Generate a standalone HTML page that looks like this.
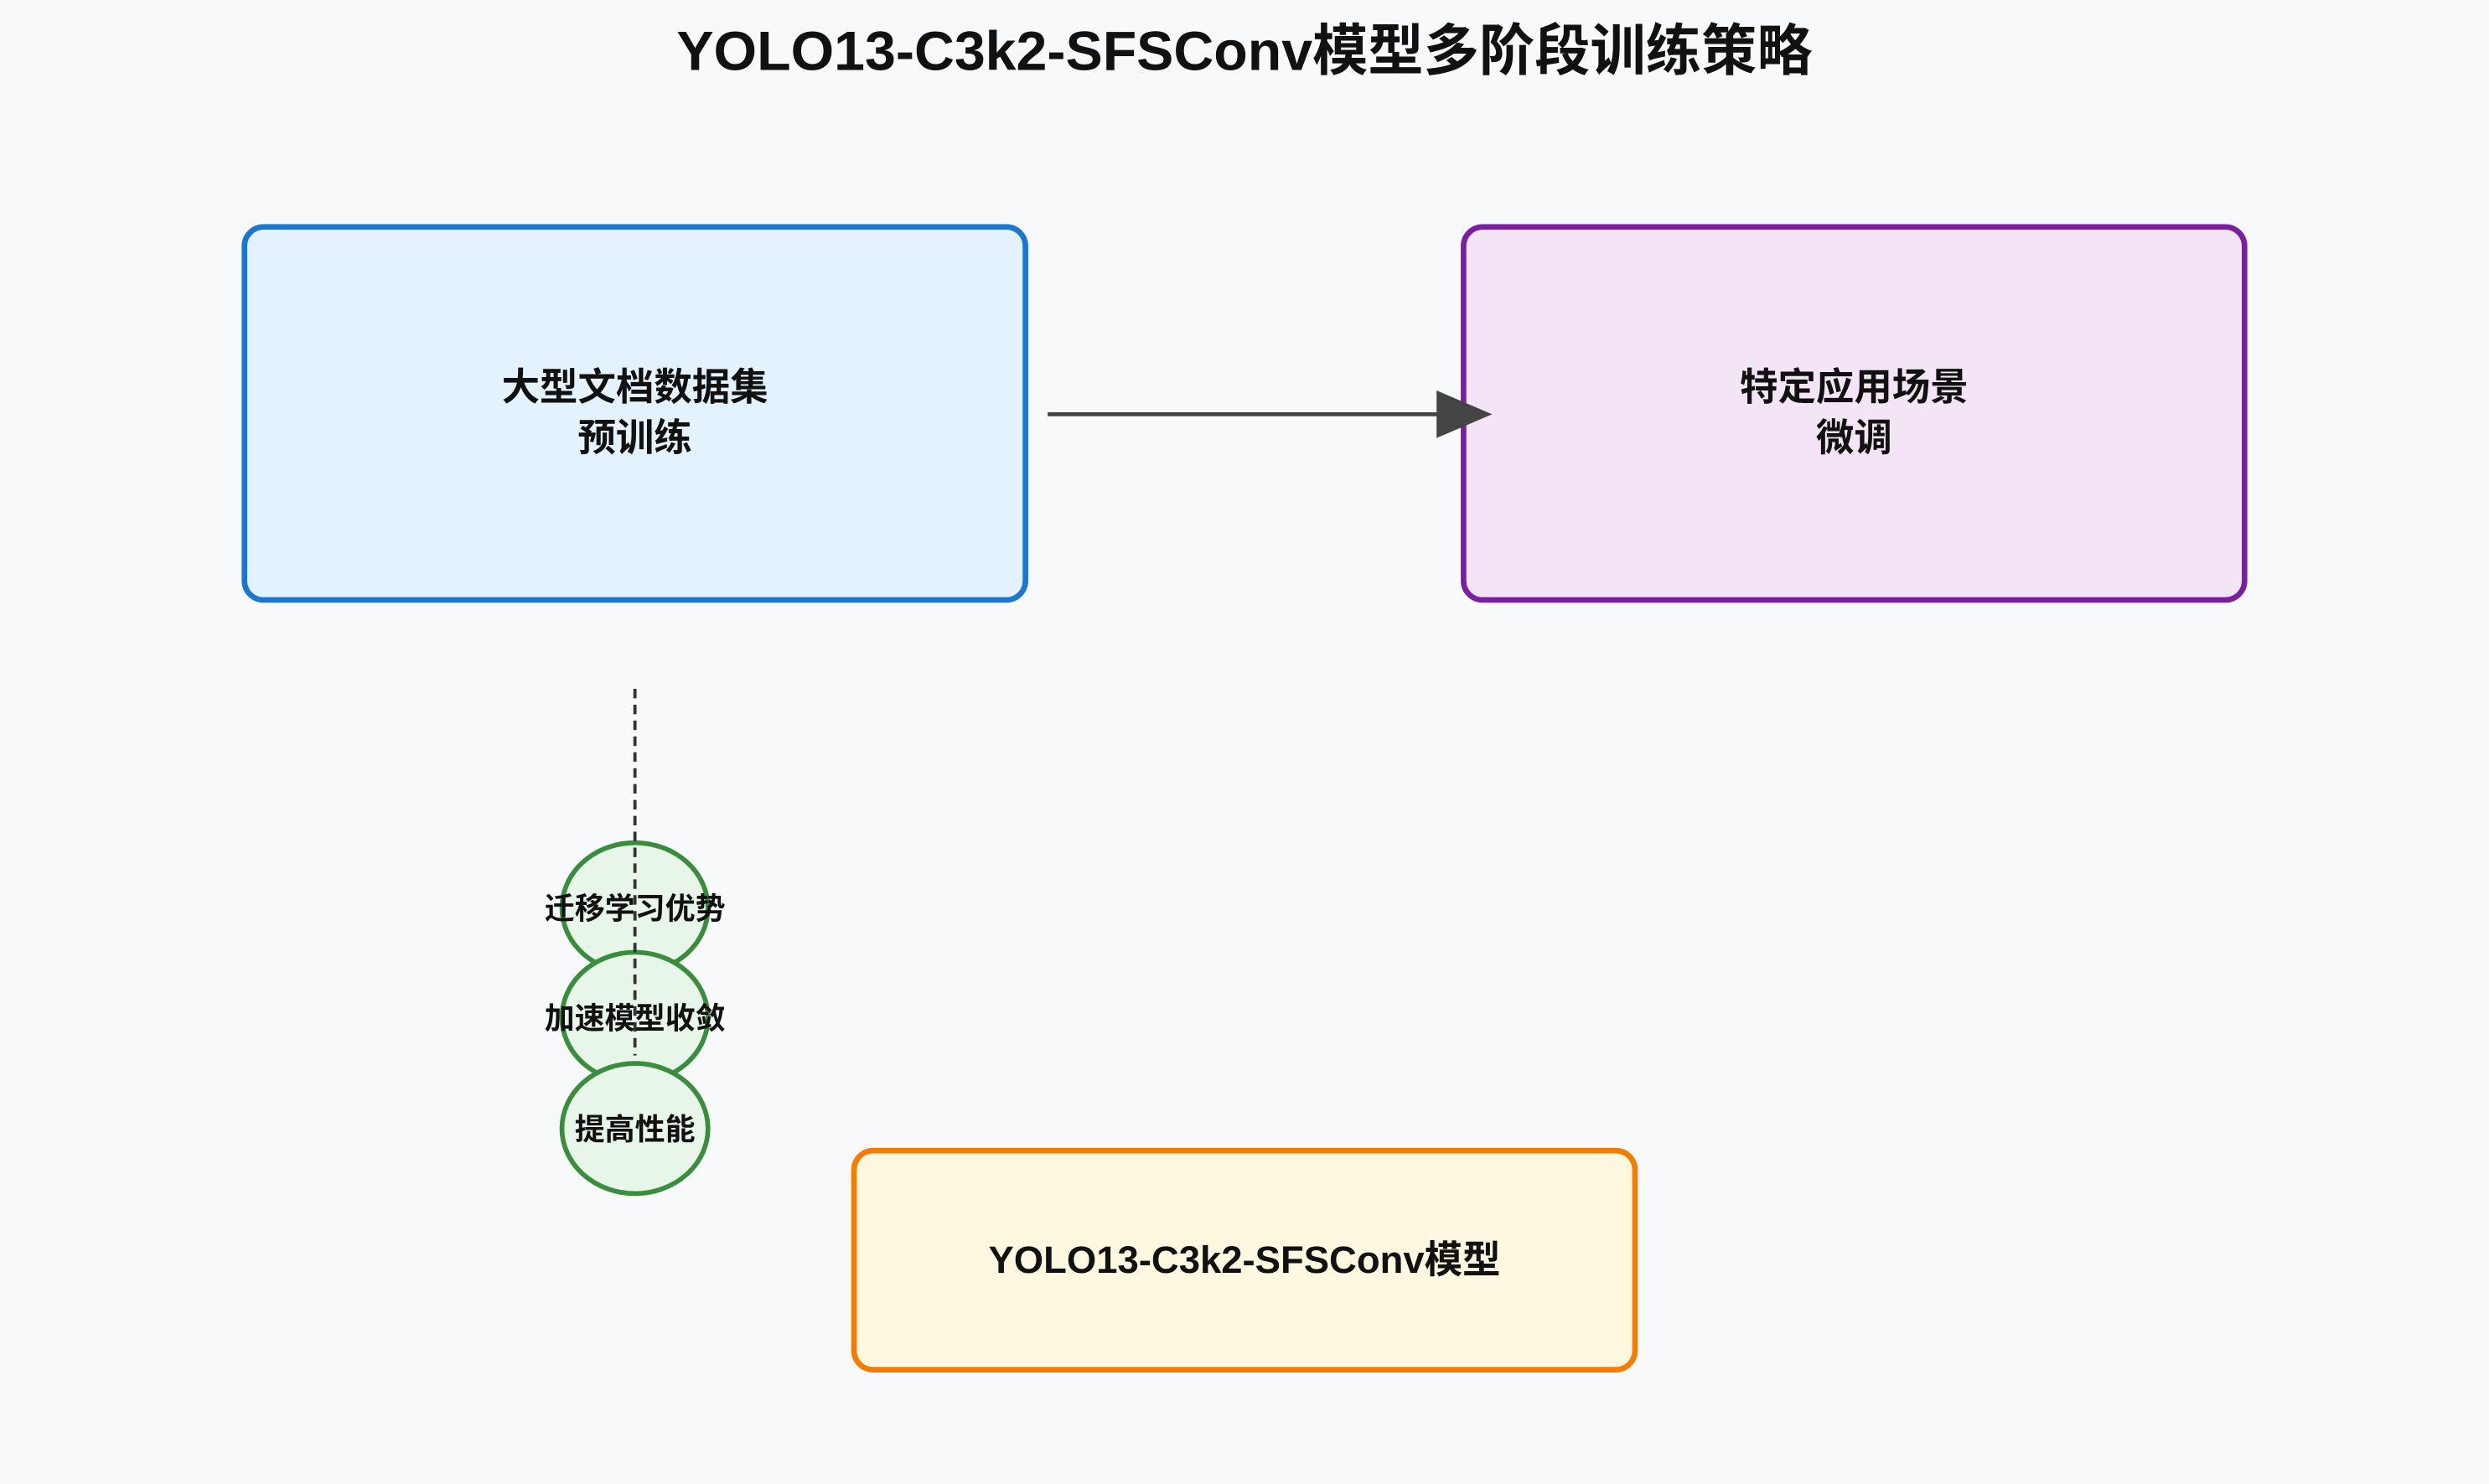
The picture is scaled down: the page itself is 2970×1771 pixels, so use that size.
<!DOCTYPE html>
<html><head><meta charset="utf-8"><style>
html,body{margin:0;padding:0;background:#f8f9fa;}
svg{display:block;}
text{font-family:"Liberation Sans","Noto Sans CJK SC",sans-serif;font-weight:bold;fill:#111;}
</style></head><body>
<svg width="2970" height="1771" viewBox="0 0 1568 935" preserveAspectRatio="none" xmlns="http://www.w3.org/2000/svg">
<rect width="1568" height="935" fill="#f8f9fa"/>
<text x="784" y="44" font-size="35" text-anchor="middle">YOLO13-C3k2-SFSConv模型多阶段训练策略</text>
<rect x="154" y="143" width="492" height="235" rx="12" fill="#e3f2fd" stroke="#1976d2" stroke-width="3.5"/>
<text x="400" y="252" font-size="24" text-anchor="middle">大型文档数据集</text>
<text x="400" y="284" font-size="24" text-anchor="middle">预训练</text>
<rect x="922" y="143" width="492" height="235" rx="12" fill="#f3e5f5" stroke="#7b1fa2" stroke-width="3.5"/>
<text x="1168" y="252" font-size="24" text-anchor="middle">特定应用场景</text>
<text x="1168" y="284" font-size="24" text-anchor="middle">微调</text>
<rect x="538" y="725" width="492" height="138" rx="12" fill="#fff8e1" stroke="#f57c00" stroke-width="3.5"/>
<text x="784" y="802" font-size="24" text-anchor="middle">YOLO13-C3k2-SFSConv模型</text>
<line x1="660" y1="261" x2="910" y2="261" stroke="#444" stroke-width="2.5"/>
<polygon points="905,246 940,261 905,276" fill="#444"/>
<ellipse cx="400" cy="572" rx="46" ry="41" fill="#e8f5e9" stroke="#388e3c" stroke-width="3"/>
<ellipse cx="400" cy="641" rx="46" ry="41" fill="#e8f5e9" stroke="#388e3c" stroke-width="3"/>
<ellipse cx="400" cy="711" rx="46" ry="41" fill="#e8f5e9" stroke="#388e3c" stroke-width="3"/>
<line x1="400" y1="434" x2="400" y2="665" stroke="#333" stroke-width="2" stroke-dasharray="6,4"/>
<text x="400" y="579" font-size="19" text-anchor="middle">迁移学习优势</text>
<text x="400" y="648" font-size="19" text-anchor="middle">加速模型收敛</text>
<text x="400" y="718" font-size="19" text-anchor="middle">提高性能</text>
</svg>
</body></html>
